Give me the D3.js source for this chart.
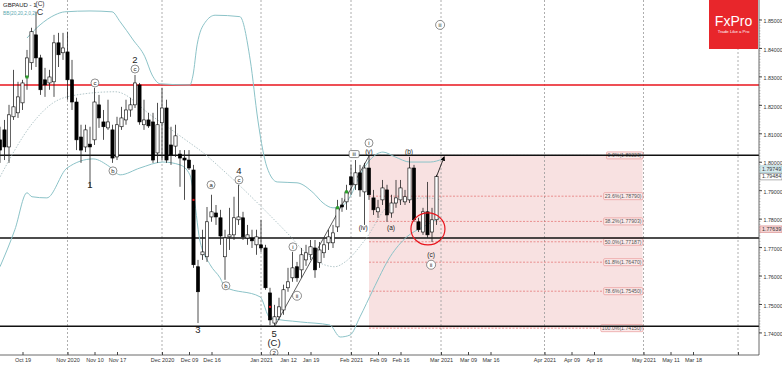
<!DOCTYPE html>
<html><head><meta charset="utf-8">
<script src="https://cdn.jsdelivr.net/npm/d3@7"></script>
<style>
body{margin:0;background:#fff}
svg{display:block}
text{font-family:Arial,"Liberation Sans",sans-serif}
</style></head>
<body><svg id="c" width="782" height="366"></svg>
<script>
// ---------------- DATA ----------------
const firstIndex = -5; // first candle's trading-day index (0 = Oct 19 2020)
// daily candles [open, high, low, close]
const candles = [
[1.8077,1.8123,1.7996,1.8041],[1.8112,1.8147,1.8006,1.8052],[1.8052,1.8200,1.7996,1.8165],
[1.8158,1.8323,1.8147,1.8193],[1.8172,1.8281,1.8154,1.8228],[1.8207,1.8288,1.8182,1.8277],
[1.8298,1.8393,1.8253,1.8365],[1.8348,1.8471,1.8323,1.8457],[1.8446,1.8527,1.8333,1.8365],
[1.8365,1.8376,1.8235,1.8253],[1.8288,1.8330,1.8228,1.8270],[1.8277,1.8323,1.8253,1.8298],
[1.8281,1.8446,1.8228,1.8418],[1.8418,1.8453,1.8333,1.8376],[1.8383,1.8453,1.8358,1.8400],
[1.8386,1.8457,1.8218,1.8288],[1.8288,1.8358,1.8182,1.8210],[1.8210,1.8225,1.8041,1.8077],
[1.8087,1.8130,1.7996,1.8041],[1.8052,1.8130,1.8034,1.8112],[1.8062,1.8123,1.7912,1.8052],
[1.8077,1.8260,1.8059,1.8210],[1.8200,1.8235,1.8119,1.8154],[1.8140,1.8182,1.8077,1.8123],
[1.8119,1.8218,1.8112,1.8140],[1.8112,1.8130,1.7996,1.8013],[1.8017,1.8158,1.8006,1.8130],
[1.8123,1.8193,1.8112,1.8154],[1.8147,1.8218,1.8130,1.8182],[1.8182,1.8225,1.8158,1.8200],
[1.8200,1.8305,1.8189,1.8277],[1.8270,1.8277,1.8130,1.8140],[1.8130,1.8218,1.8112,1.8147],
[1.8147,1.8172,1.8119,1.8126],[1.8140,1.8172,1.7996,1.8006],[1.8031,1.8207,1.7996,1.8130],
[1.8137,1.8260,1.8006,1.8189],[1.8189,1.8218,1.7996,1.8006],[1.8059,1.8123,1.7989,1.8024],
[1.8055,1.8130,1.8017,1.8091],[1.8027,1.8041,1.7912,1.8013],[1.8013,1.8041,1.7866,1.8006],
[1.8006,1.8041,1.7971,1.7978],[1.7971,1.7989,1.7627,1.7638],[1.7631,1.7655,1.7433,1.7543],
[1.7673,1.7761,1.7655,1.7683],[1.7666,1.7841,1.7648,1.7789],[1.7806,1.7884,1.7789,1.7824],
[1.7820,1.7848,1.7778,1.7806],[1.7803,1.7831,1.7708,1.7739],[1.7666,1.7761,1.7585,1.7732],
[1.7736,1.7838,1.7690,1.7743],[1.7743,1.7877,1.7725,1.7803],[1.7796,1.7919,1.7778,1.7806],
[1.7803,1.7824,1.7725,1.7736],[1.7732,1.7778,1.7708,1.7743],[1.7732,1.7761,1.7697,1.7722],
[1.7708,1.7761,1.7673,1.7736],[1.7708,1.7796,1.7683,1.7697],[1.7697,1.7708,1.7550,1.7557],
[1.7539,1.7557,1.7426,1.7444],[1.7433,1.7497,1.7420,1.7455],[1.7455,1.7522,1.7444,1.7490],
[1.7479,1.7568,1.7462,1.7550],[1.7557,1.7627,1.7543,1.7578],[1.7592,1.7683,1.7578,1.7627],
[1.7631,1.7648,1.7578,1.7592],[1.7620,1.7697,1.7592,1.7673],[1.7655,1.7708,1.7634,1.7680],
[1.7673,1.7725,1.7655,1.7701],[1.7697,1.7725,1.7592,1.7620],[1.7645,1.7718,1.7627,1.7690],
[1.7680,1.7732,1.7662,1.7708],[1.7715,1.7761,1.7690,1.7736],[1.7715,1.7778,1.7697,1.7750],
[1.7771,1.7866,1.7753,1.7838],[1.7848,1.7873,1.7824,1.7841],[1.7859,1.7919,1.7831,1.7894],
[1.7947,1.7989,1.7884,1.7919],[1.7919,1.8006,1.7901,1.7961],[1.7961,1.7989,1.7877,1.7901],
[1.7894,1.7996,1.7778,1.7978],[1.7978,1.8020,1.7866,1.7884],[1.7873,1.7901,1.7813,1.7831],
[1.7824,1.7866,1.7803,1.7838],[1.7866,1.7936,1.7848,1.7908],[1.7901,1.7919,1.7789,1.7813],
[1.7820,1.7884,1.7803,1.7855],[1.7855,1.7936,1.7838,1.7873],[1.7866,1.7936,1.7848,1.7908],
[1.7859,1.7901,1.7848,1.7877],[1.7866,1.8017,1.7855,1.7978],[1.7978,1.7989,1.7789,1.7796],
[1.7789,1.7803,1.7753,1.7761],[1.7753,1.7838,1.7743,1.7824],[1.7824,1.7929,1.7732,1.7743],
[1.7753,1.7838,1.7718,1.7796],[1.7796,1.7954,1.7778,1.7948]
];
// Bollinger bands, sampled [trading-day index, price]
const bbUpper = [[1,1.8435],[3.9,1.8481],[7.2,1.8516],[9.4,1.8527],[15,1.8530],[19.9,1.8527],[21.7,1.8492],[24.6,1.8428],[27.2,1.8369],[28.8,1.8305],[30.6,1.8274],[37.2,1.8270],[37.9,1.8305],[38.8,1.8411],[40.6,1.8490],[42.8,1.8515],[48.3,1.8510],[50.6,1.8358],[52.3,1.8147],[53.4,1.8041],[54.3,1.7982],[56.6,1.7929],[61,1.7926],[64.6,1.7891],[66.8,1.7855],[69,1.7838],[70.6,1.7841],[72.8,1.7877],[75,1.7954],[77.2,1.8006],[80.1,1.8034],[82.8,1.8017],[86.1,1.7999],[90.6,1.7999],[93.4,1.8010]];
const bbMiddle = [[-5,1.7947],[2.3,1.8137],[6.8,1.8207],[12.1,1.8235],[20.6,1.8246],[29,1.8158],[37.2,1.8066],[39.4,1.8041],[45,1.7964],[58.8,1.7750],[63.9,1.7666],[69.4,1.7631],[71.7,1.7648],[76.1,1.7725],[81.7,1.7848],[89.9,1.7873],[92.8,1.7866]];
const bbLower = [[-5,1.7631],[-1.7,1.7761],[1,1.7891],[2.1,1.7877],[5.4,1.7873],[9.9,1.7978],[15.7,1.8010],[19.4,1.7982],[21.7,1.7954],[26.1,1.7978],[31.2,1.7999],[35,1.7989],[37.2,1.7954],[37.9,1.7901],[39.4,1.7725],[41.7,1.7638],[43.9,1.7592],[45,1.7560],[52.8,1.7525],[55,1.7451],[61.7,1.7437],[68.3,1.7426],[70.6,1.7384],[72.8,1.7391],[75,1.7455],[77.9,1.7550],[81.7,1.7666],[85.4,1.7736],[89,1.7771],[92.8,1.7803]];
// axes
const priceTicks = [1.74,1.75,1.76,1.77,1.78,1.79,1.80,1.81,1.82,1.83,1.84,1.85];
const timeTickIdx = [0,10,16,21,31,37,42,53,59,64,73,79,84,93,99,104,116,122,127,138,144,149,159];
const timeTickLabels = ["Oct 19","Nov 2020","Nov 10","Nov 17","Dec 2020","Dec 09","Dec 16","Jan 2021","Jan 12","Jan 19","Feb 2021","Feb 09","Feb 16","Mar 2021","Mar 09","Mar 16","Apr 2021","Apr 09","Apr 16","May 2021","May 11","Mar 18",""];
const monthStartIdx = [10,31,53,73,93,116,138,159];
// horizontal levels
const blackLevels = [1.8023,1.7732,1.7422];
const redLevels = [1.8270];
// Fibonacci retracement
const fibPct = [0,23.6,38.2,50.0,61.8,78.6,100.0];
const fibPrice = [1.80223,1.78790,1.77903,1.77187,1.76470,1.75450,1.74150];
const fibStartIdx = 77, fibEndIdx = 137.8;
// price tags on the right scale
const tagPrices = [1.79749,1.79484,1.77639];
const tagLabels = ["1.79749","1.79484","1.77639"];
// Elliott wave labels [index, price, text, kind]
const waveLabels = [
 [25,1.8358,"2","num"],[25,1.8326,"c","circ"],
 [16.1,1.8277,"c","circ"],
 [15,1.7919,"1","num"],[20.1,1.7968,"b","circ"],
 [39,1.7409,"3","num"],[41.9,1.7919,"a","circ"],
 [48.1,1.7971,"4","num"],[48.1,1.7936,"c","circ"],
 [45.2,1.7564,"b","circ"],
 [55.9,1.7398,"5","num"],[55.9,1.7363,"(C)","num"],[55.9,1.7328,"2","circ"],
 [60.1,1.7701,"i","circ"],[61,1.7529,"ii","circ"],
 [73.7,1.8027,"iii","box"],[77,1.8066,"i","circ"],[77,1.8034,"(v)","small"],
 [75.7,1.7768,"(iv)","small"],[81.9,1.7768,"(a)","small"],[85.9,1.8034,"(b)","small"],
 [90.8,1.7673,"(c)","small"],[90.8,1.7638,"ii","circ"],
 [92.8,1.8481,"iii","circ"]
];
const trendLine = [[56,1.7420],[77,1.8020]];
const arrowLine = [[92,1.7948],[93.7,1.8017]];
const circleCenter = [90.1,1.7764];
const greenMarks = [[1,1.8298],[70,1.7838],[72,1.7894]];
const redMarks = [[38,1.7866],[55,1.7490]];

// ---------------- DRAW ----------------
const svg = d3.select("#c");
const plotR = 759, plotB = 355;
const x = d3.scaleLinear().domain([0,159]).range([22.5,738]);
const y = d3.scaleLinear().domain([1.74,1.85]).range([332.45,19.5]);

const defs = svg.append("defs");
defs.append("clipPath").attr("id","clip")
  .append("rect").attr("x",0).attr("y",0).attr("width",plotR).attr("height",plotB);
defs.append("marker").attr("id","arr").attr("viewBox","0 0 10 10")
  .attr("refX",8).attr("refY",5).attr("markerWidth",6).attr("markerHeight",6)
  .attr("orient","auto").append("path").attr("d","M0,0L10,5L0,10z").attr("fill","#000");

const g = svg.append("g").attr("clip-path","url(#clip)");

// Fib rectangle
g.append("rect").attr("x",x(fibStartIdx)).attr("y",y(fibPrice[0]))
  .attr("width",x(fibEndIdx)-x(fibStartIdx)).attr("height",y(fibPrice[6])-y(fibPrice[0]))
  .attr("fill","#f8e1e1");

// month dashed lines
g.selectAll(".vm").data(monthStartIdx).enter().append("line")
  .attr("x1",d=>x(d)).attr("x2",d=>x(d)).attr("y1",0).attr("y2",plotB)
  .attr("stroke","#999").attr("stroke-width",0.8).attr("stroke-dasharray","2,2");

// fib dashed lines & labels
const fibG = g.append("g");
fibPct.forEach((p,i)=>{
  const yy = y(fibPrice[i]);
  const label = p.toFixed(1)+"%("+fibPrice[i].toFixed(5)+")";
  const t = fibG.append("text").attr("x",x(fibEndIdx)-1).attr("y",yy+2).attr("text-anchor","end")
    .attr("font-size",5.2).attr("fill","#555").text(label);
  const bb = t.node().getBBox();
  fibG.insert("rect","text").attr("x",bb.x-1).attr("y",bb.y-0.5).attr("width",bb.width+2).attr("height",bb.height+1)
    .attr("fill","#fbeaea").attr("stroke","#e58a8a").attr("stroke-width",0.6).attr("rx",1);
  fibG.insert("line","rect").attr("x1",x(fibStartIdx)).attr("x2",bb.x-1).attr("y1",yy).attr("y2",yy)
    .attr("stroke","#e46b6b").attr("stroke-width",0.7).attr("stroke-dasharray","2,1.5");
});
fibG.selectAll("text").raise();

// horizontal levels
g.selectAll(".hb").data(blackLevels).enter().append("line")
  .attr("x1",0).attr("x2",plotR).attr("y1",d=>y(d)).attr("y2",d=>y(d))
  .attr("stroke","#111").attr("stroke-width",1.5);
g.selectAll(".hr").data(redLevels).enter().append("line")
  .attr("x1",0).attr("x2",plotR).attr("y1",d=>y(d)).attr("y2",d=>y(d))
  .attr("stroke","#e8141c").attr("stroke-width",1.5);

// Bollinger bands
const ln = d3.line().x(d=>x(d[0])).y(d=>y(d[1])).curve(d3.curveMonotoneX);
g.append("path").attr("d",ln(bbUpper)).attr("fill","none").attr("stroke","#8cc3c8").attr("stroke-width",1);
g.append("path").attr("d",ln(bbLower)).attr("fill","none").attr("stroke","#8cc3c8").attr("stroke-width",1);
g.append("path").attr("d",ln(bbMiddle)).attr("fill","none").attr("stroke","#9fb8bb").attr("stroke-width",0.8).attr("stroke-dasharray","1.5,1.5");

// trend line
g.append("line").attr("x1",x(trendLine[0][0])).attr("y1",y(trendLine[0][1]))
  .attr("x2",x(trendLine[1][0])).attr("y2",y(trendLine[1][1])).attr("stroke","#333").attr("stroke-width",0.8);

// candles
const cg = g.append("g");
candles.forEach((c,k)=>{
  const i = firstIndex + k, cx = x(i);
  const [o,h,l,cl] = c;
  const up = cl >= o;
  cg.append("line").attr("x1",cx).attr("x2",cx).attr("y1",y(h)).attr("y2",y(l))
    .attr("stroke","#222").attr("stroke-width",0.8);
  const top = y(Math.max(o,cl)), bot = y(Math.min(o,cl));
  cg.append("rect").attr("x",cx-1.6).attr("y",top).attr("width",3.2).attr("height",Math.max(bot-top,0.8))
    .attr("fill",up?"#fff":"#000").attr("stroke","#000").attr("stroke-width",0.6);
});

// marks
g.selectAll(".gm").data(greenMarks).enter().append("rect")
  .attr("x",d=>x(d[0])-1.5).attr("y",d=>y(d[1])-1.5).attr("width",3).attr("height",3).attr("fill","#2ca02c");
g.selectAll(".rm").data(redMarks).enter().append("rect")
  .attr("x",d=>x(d[0])-1).attr("y",d=>y(d[1])-1).attr("width",2).attr("height",2).attr("fill","#e8141c");

// arrow
g.append("line").attr("x1",x(arrowLine[0][0])).attr("y1",y(arrowLine[0][1]))
  .attr("x2",x(arrowLine[1][0])).attr("y2",y(arrowLine[1][1]))
  .attr("stroke","#000").attr("stroke-width",0.8).attr("marker-end","url(#arr)");

// red circle
g.append("ellipse").attr("cx",x(circleCenter[0])).attr("cy",y(circleCenter[1]))
  .attr("rx",17).attr("ry",16).attr("fill","none").attr("stroke","#e8141c").attr("stroke-width",1.2);

// wave labels
waveLabels.forEach(([i,p,t,k])=>{
  const px = x(i), py = y(p);
  if(k==="num"){
    g.append("text").attr("x",px).attr("y",py+3.5).attr("text-anchor","middle")
      .attr("font-size",9.5).attr("fill","#222").text(t);
  } else if(k==="circ"){
    g.append("circle").attr("cx",px).attr("cy",py).attr("r",t.length>1?4.5:4)
      .attr("fill","#fff").attr("stroke","#444").attr("stroke-width",0.6);
    g.append("text").attr("x",px).attr("y",py+2).attr("text-anchor","middle")
      .attr("font-size",t.length>2?4.5:6).attr("fill","#222").text(t);
  } else if(k==="box"){
    g.append("rect").attr("x",px-5).attr("y",py-3.5).attr("width",10).attr("height",7).attr("rx",1.5)
      .attr("fill","#fff").attr("stroke","#444").attr("stroke-width",0.6);
    g.append("text").attr("x",px).attr("y",py+2).attr("text-anchor","middle")
      .attr("font-size",5).attr("fill","#222").text(t);
  } else {
    g.append("text").attr("x",px).attr("y",py+2.2).attr("text-anchor","middle")
      .attr("font-size",6.5).attr("font-family","DejaVu Serif,serif").attr("fill","#222").text(t);
  }
});

// title + top-left wave label
svg.append("text").attr("x",3).attr("y",7).attr("font-size",6).attr("fill","#222").text("GBPAUD - 1");
svg.append("text").attr("x",3).attr("y",15).attr("font-size",4.8).attr("fill","#5aa9b0").text("BB(20,20,2,0,2)");
svg.append("text").attr("x",40).attr("y",5.5).attr("text-anchor","middle").attr("font-size",6.5).attr("fill","#333").text("(C)");
svg.append("text").attr("x",40).attr("y",15).attr("text-anchor","middle").attr("font-size",9).attr("fill","#333").text("C");

// FxPro logo
svg.append("rect").attr("x",709).attr("y",0).attr("width",49).attr("height",49).attr("fill","#e8262b");
svg.append("text").attr("x",733.5).attr("y",26).attr("text-anchor","middle").attr("font-size",14)
  .attr("font-family","Liberation Serif,DejaVu Serif,serif").attr("fill","#fff").text("FxPro");
svg.append("text").attr("x",733.5).attr("y",33).attr("text-anchor","middle").attr("font-size",4.3).attr("fill","#fff").text("Trade Like a Pro");

// axes frame
svg.append("line").attr("x1",plotR).attr("x2",plotR).attr("y1",0).attr("y2",plotB).attr("stroke","#444").attr("stroke-width",0.8);
svg.append("line").attr("x1",0).attr("x2",plotR).attr("y1",plotB).attr("y2",plotB).attr("stroke","#444").attr("stroke-width",0.8);

// right axis minor ticks
const minor = d3.range(1.74,1.8501,0.001);
svg.selectAll(".mt").data(minor).enter().append("line")
  .attr("x1",plotR).attr("x2",plotR+1.5).attr("y1",d=>y(d)).attr("y2",d=>y(d)).attr("stroke","#666").attr("stroke-width",0.4);

const ay = d3.axisRight(y).tickValues(priceTicks).tickFormat(d3.format(".5f")).tickSize(3).tickPadding(1.5);
const gy = svg.append("g").attr("transform",`translate(${plotR},0)`).call(ay);
gy.select(".domain").remove();
gy.selectAll("text").attr("font-size",5.3).attr("fill","#333").attr("dy","0.6em");
gy.selectAll("line").attr("stroke","#444");

// price tags
const tagFill = ["#d6eaee","#fff","#f4d2d2"], tagStroke = ["#7fb2b8","#666","#d07070"];
tagPrices.forEach((p,i)=>{
  const yy = y(p);
  svg.append("rect").attr("x",plotR+1).attr("y",yy-3).attr("width",22).attr("height",6.5)
    .attr("fill",tagFill[i]).attr("stroke",tagStroke[i]).attr("stroke-width",0.5);
  svg.append("text").attr("x",plotR+3).attr("y",yy+2).attr("font-size",5.3).attr("fill","#333").text(tagLabels[i]);
});

// bottom axis
const ax = d3.axisBottom(x).tickValues(timeTickIdx).tickFormat((d,i)=>timeTickLabels[i]).tickSizeInner(-3).tickSizeOuter(0).tickPadding(3);
const gx = svg.append("g").attr("transform",`translate(0,${plotB})`).call(ax);
gx.select(".domain").remove();
gx.selectAll("text").attr("font-size",5.5).attr("fill","#333");
gx.selectAll("line").attr("stroke","#444");
</script></body></html>
